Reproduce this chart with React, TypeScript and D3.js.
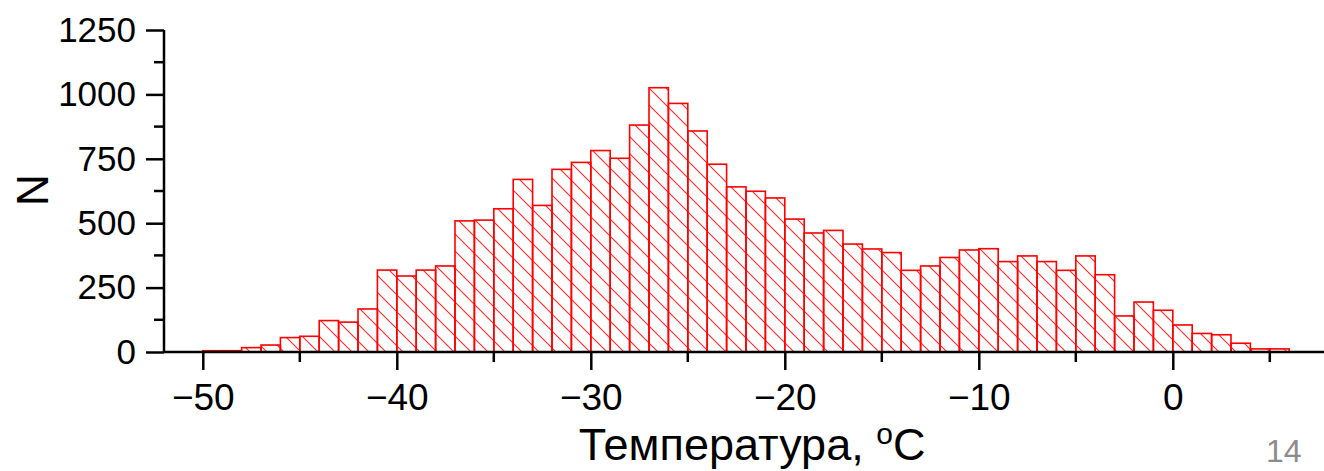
import React, { useEffect, useRef } from 'react';
import * as d3 from 'd3';

// histogram of temperatures, 1 degree bins starting at binStarts[i]
const binStarts = d3.range(-50, 6);
const counts = [
  5, 5, 17, 27, 56, 61, 122, 116, 167, 318,
  295, 318, 334, 509, 512, 556, 670, 569, 709, 736,
  782, 752, 881, 1026, 965, 858, 729, 641, 624, 598,
  516, 462, 472, 419, 400, 386, 317, 334, 367, 396,
  401, 351, 373, 351, 317, 373, 300, 140, 194, 162,
  105, 72, 67, 34, 12, 12,
];
const xTicks = [-50, -40, -30, -20, -10, 0];
const xMinorTicks = [-45, -35, -25, -15, -5, 5];
const yTicks = [0, 250, 500, 750, 1000, 1250];
const yMinorTicks = [125, 375, 625, 875, 1125];

const width = 1324, height = 471;
const font = '"Liberation Sans", Arial, sans-serif';

export default function App() {
  const ref = useRef<SVGSVGElement>(null);

  useEffect(() => {
    const svg = d3.select(ref.current);
    svg.selectAll('*').remove();

    const x = d3.scaleLinear().domain([-52, 8]).range([164, 1328]);
    const y = d3.scaleLinear().domain([0, 1250]).range([352, 30]);

    const defs = svg.append('defs');
    const p = defs.append('pattern')
      .attr('id', 'hatch')
      .attr('patternUnits', 'userSpaceOnUse')
      .attr('width', 17).attr('height', 17);
    p.append('path')
      .attr('d', 'M0,0 L17,17 M-4,13 L4,21 M13,-4 L21,4')
      .attr('stroke', '#ff2a2a').attr('stroke-width', 1.1).attr('fill', 'none');

    const data = binStarts.map((b, i) => ({ x0: b, x1: b + 1, n: counts[i] }));

    svg.append('g').selectAll('rect')
      .data(data)
      .enter().append('rect')
      .attr('x', d => x(d.x0))
      .attr('width', d => x(d.x1) - x(d.x0))
      .attr('y', d => y(d.n))
      .attr('height', d => y(0) - y(d.n))
      .attr('fill', 'url(#hatch)')
      .attr('stroke', '#ff0000')
      .attr('stroke-width', 1.6);

    // x axis
    const gx = svg.append('g').attr('transform', `translate(0,${y(0)})`);
    gx.call(d3.axisBottom(x).tickValues(xTicks).tickSize(18).tickPadding(14).tickSizeOuter(0));
    gx.select('.domain').remove();
    gx.append('line').attr('x1', 164).attr('x2', 1324).attr('stroke', '#000').attr('stroke-width', 2.5);
    gx.selectAll('.tick line').attr('stroke-width', 2.5);
    gx.selectAll('.tick text').attr('font-size', 37).attr('font-family', font).attr('fill', '#000');
    gx.selectAll('.minor').data(xMinorTicks).enter().append('line')
      .attr('x1', d => x(d)).attr('x2', d => x(d)).attr('y1', 0).attr('y2', 10)
      .attr('stroke', '#000').attr('stroke-width', 2.5);

    // y axis
    const gy = svg.append('g').attr('transform', `translate(${x(-52)},0)`);
    gy.call(d3.axisLeft(y).tickValues(yTicks).tickSize(18).tickPadding(10).tickFormat(d3.format('d')));
    gy.select('.domain').remove();
    gy.append('line').attr('y1', y(1250)).attr('y2', y(0) + 1).attr('stroke', '#000').attr('stroke-width', 2.5);
    gy.selectAll('.tick line').attr('stroke-width', 2.5);
    gy.selectAll('.tick text').attr('font-size', 35).attr('font-family', font).attr('fill', '#000');
    gy.selectAll('.minor').data(yMinorTicks).enter().append('line')
      .attr('y1', d => y(d)).attr('y2', d => y(d)).attr('x1', 0).attr('x2', -10)
      .attr('stroke', '#000').attr('stroke-width', 2.5);

    // axis titles
    const t = svg.append('text')
      .attr('x', 752).attr('y', 460)
      .attr('text-anchor', 'middle')
      .attr('font-family', font).attr('font-size', 45).attr('fill', '#000');
    t.append('tspan').text('Температура, ');
    t.append('tspan').attr('font-size', 30).attr('dy', -16).text('o');
    t.append('tspan').attr('dy', 16).text('C');

    svg.append('text')
      .attr('transform', 'translate(48,190) rotate(-90)')
      .attr('text-anchor', 'middle')
      .attr('font-family', font).attr('font-size', 44).attr('fill', '#000')
      .text('N');

    svg.append('text')
      .attr('x', 1266).attr('y', 462)
      .attr('font-family', font).attr('font-size', 32).attr('fill', '#8c8c8c')
      .text('14');
  }, []);

  return (
    <svg ref={ref} width={width} height={height}
      style={{ position: 'absolute', left: 0, top: 0, background: '#fff' }} />
  );
}
